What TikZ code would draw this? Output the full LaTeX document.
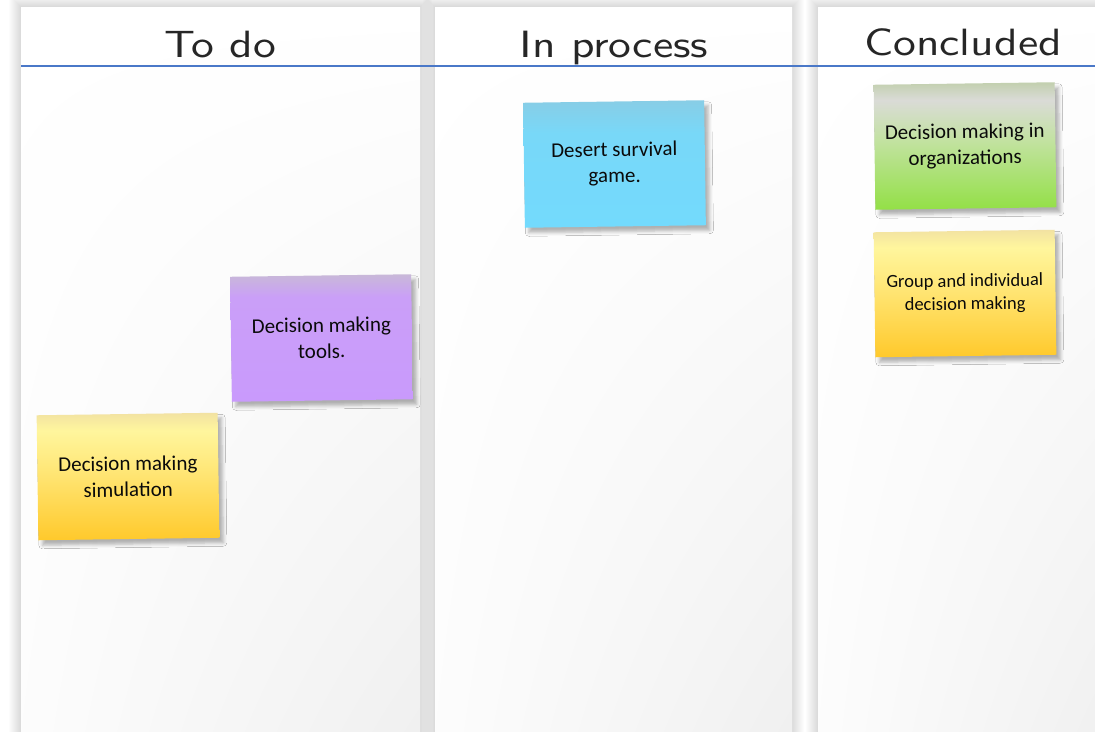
\documentclass[tikz,border=0pt]{standalone}
\usepackage{fontspec}
\setmainfont{Carlito}
\newfontfamily\handfont{lmsans10-regular.otf}[FakeStretch=1.2]
\usepackage{tikz}
\usetikzlibrary{shadings,shadows.blur}

\definecolor{boardline}{HTML}{4A78C8}
\definecolor{notetext}{HTML}{0A0A0A}

% sticky note fills (25bp = bottom edge, 75bp = top edge)
\definecolor{goldlow}{HTML}{FFC92B}
\definecolor{goldmid}{HTML}{FFE676}
\definecolor{goldhigh}{HTML}{FFF69D}
\definecolor{goldtop}{HTML}{F2E2A2}
\definecolor{greenlow}{HTML}{93E046}
\definecolor{greenmid}{HTML}{C2E2A0}
\definecolor{greenhigh}{HTML}{DADBD7}
\definecolor{greentop}{HTML}{C2CFAE}
\definecolor{lilaclow}{HTML}{C99AFC}
\definecolor{lilachigh}{HTML}{CA9FF8}
\definecolor{lilactop}{HTML}{C8B8D8}
\definecolor{skylow}{HTML}{73DAFD}
\definecolor{skyhigh}{HTML}{78D8F8}
\definecolor{skytop}{HTML}{88CDE6}
\pgfdeclareverticalshading{notegold}{100bp}{color(0bp)=(goldlow); color(25bp)=(goldlow);
  color(52bp)=(goldmid); color(68bp)=(goldhigh); color(75bp)=(goldtop); color(100bp)=(goldtop)}
\pgfdeclareverticalshading{notegreen}{100bp}{color(0bp)=(greenlow); color(25bp)=(greenlow);
  color(52bp)=(greenmid); color(68bp)=(greenhigh); color(75bp)=(greentop); color(100bp)=(greentop)}
\pgfdeclareverticalshading{notelilac}{100bp}{color(0bp)=(lilaclow); color(25bp)=(lilaclow);
  color(66bp)=(lilachigh); color(75bp)=(lilactop); color(100bp)=(lilactop)}
\pgfdeclareverticalshading{notesky}{100bp}{color(0bp)=(skylow); color(25bp)=(skylow);
  color(62bp)=(skyhigh); color(75bp)=(skytop); color(100bp)=(skytop)}

\tikzset{
  heading/.style={anchor=base, font=\handfont\fontsize{38}{40}\selectfont, text=black!85},
  note/.style={minimum width=181, minimum height=125, align=center, rotate=0.8,
    text=notetext, font=\fontsize{21}{26}\selectfont,
    blur shadow={shadow xshift=4pt, shadow yshift=-5pt, shadow blur radius=3.5pt, shadow opacity=30}},
}

\begin{document}
\begin{tikzpicture}[x=1pt,y=-1pt]
\tikzstyle{every node}+=[inner sep=0pt]
\useasboundingbox (0,0) rectangle (1095,731);
\clip (0,0) rectangle (1095,731);
% soft shadow round the three columns
\foreach \l/\r in {21/420, 435/792, 818/1112}
  \foreach \i in {1,...,12}
    \fill [black, opacity=0.012] (\l-\i,7-\i) rectangle (\r+\i,745);
\foreach \l/\r in {21/420, 435/792, 818/1112}
  \shade [upper left=white, upper right=white, lower left=black!1, lower right=black!6]
    (\l,7) rectangle (\r,745);
\draw [boardline, line width=1.1] (21,66) -- (1095,66);

\node [heading] (todo) at (220,57) {To do};
\node [heading] (inprocess) at (614,57) {In process};
\node [heading] (concluded) at (963,55) {Concluded};

\node [note, shading=notelilac] (tools) at (321.5,338) {Decision making\\tools.};
\node [note, shading=notegold] (simulation) at (128,476.5) {Decision making\\simulation};
\node [note, shading=notesky] (desert) at (614.5,164) {Desert survival\\game.};
\node [note, shading=notegreen] (organizations) at (965,146) {Decision making in\\organizations};
\node [note, shading=notegold, font=\fontsize{18.5}{23}\selectfont] (group) at (965,293.5) {Group and individual\\decision making};
\end{tikzpicture}
\end{document}
